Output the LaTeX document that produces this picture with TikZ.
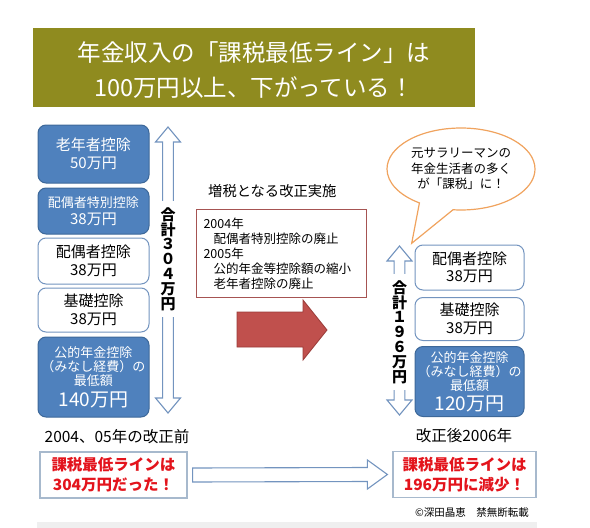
\documentclass[tikz,border=0pt]{standalone}
\usepackage{fontspec}
\setmainfont{Noto Sans CJK JP}
\usetikzlibrary{positioning, calc, shapes.callouts}
\definecolor{titlebg}{HTML}{8F8B1F}
\definecolor{boxblue}{HTML}{4F81BD}
\definecolor{boxedge}{HTML}{3D6899}
\definecolor{lineblue}{HTML}{7394BF}
\definecolor{framegray}{HTML}{A7B9CD}
\definecolor{warnred}{HTML}{E3141C}
\definecolor{arrowred}{HTML}{C0504D}
\definecolor{arrowedge}{HTML}{9A3B38}
\definecolor{notered}{HTML}{A65452}
\definecolor{bubbleorange}{HTML}{F0A35E}
\definecolor{stripgray}{HTML}{EFEFEF}

\begin{document}
\begin{tikzpicture}[x=1pt, y=-1pt,
    every node/.style={inner sep=0pt},
    bluebox/.style={draw=boxedge, fill=boxblue, text=white, rounded corners=8pt, line width=1pt, minimum width=111pt, align=center},
    whitebox/.style={draw=lineblue, fill=white, rounded corners=8pt, line width=1pt, minimum width=111pt, align=center},
    redbox/.style={draw=framegray, fill=white, line width=1.2pt, minimum width=147pt, minimum height=46pt, align=center, text=warnred, font=\bfseries\fontsize{15.5}{20}\selectfont},
    hollow/.style={draw=lineblue, fill=white, line width=1.1pt},
    vlab/.style={fill=white, align=center, inner xsep=2pt, inner ysep=6pt, font=\bfseries\fontsize{15}{14.8}\selectfont},
    big/.style={font=\fontsize{15}{17.5}\selectfont},
    small/.style={font=\fontsize{13}{14}\selectfont},
]
% vertical hollow double arrow: x, top, bottom
\def\vdouble#1#2#3{
    \draw[hollow] (#1,#2) -- (#1+12.5,#2+15) -- (#1+5.4,#2+15) -- (#1+5.4,#3-15)
        -- (#1+12.5,#3-15) -- (#1,#3) -- (#1-12.5,#3-15) -- (#1-5.4,#3-15)
        -- (#1-5.4,#2+15) -- (#1-12.5,#2+15) -- cycle;
}
\useasboundingbox (0,0) rectangle (590,528);

% ---------------- title
\fill[titlebg] (33,28) rectangle (475,107);
\node[text=white, align=center, font=\fontsize{23.5}{35}\selectfont] (title) at (254,70.5)
      {年金収入の「課税最低ライン」は\\100万円以上、下がっている！};

% ---------------- before: left column
\node[bluebox, big, minimum height=58pt] (rounen) at (93.5,154) {老年者控除\\50万円};
\node[bluebox, big, minimum height=46pt, below=4pt of rounen] (tokubetsu)
      {{\fontsize{13}{15}\selectfont 配偶者特別控除}\\38万円};
\node[whitebox, big, minimum height=46pt, below=3pt of tokubetsu] (haigu) {配偶者控除\\38万円};
\node[whitebox, big, minimum height=44pt, below=3pt of haigu] (kiso) {基礎控除\\38万円};
\node[bluebox, small, minimum height=80pt, below=4pt of kiso] (kouteki)
      {公的年金控除\\（みなし経費）の\\最低額\\[4pt]{\fontsize{19}{22}\selectfont 140万円}};

\vdouble{168}{127}{413}
\node[vlab] (total304) at (168,259) {合\\計\\３\\０\\４\\万\\円};

% ---------------- reform in the middle
\node[font=\fontsize{14.3}{16}\selectfont, anchor=west] (zouzei) at (208,191) {増税となる改正実施};
\node[draw=notered, line width=1pt, anchor=north west, minimum width=170pt, minimum height=88pt,
      inner xsep=7pt, text width=156pt, align=left, font=\fontsize{12.5}{15}\selectfont] (kaisei) at (196,209)
      {2004年\\\hspace*{10pt}配偶者特別控除の廃止\\2005年\\\hspace*{10pt}公的年金等控除額の縮小\\\hspace*{10pt}老年者控除の廃止};
\draw[fill=arrowred, draw=arrowedge, line width=0.8pt]
    (237,312) -- (303,312) -- (303,300) -- (327,330) -- (303,360) -- (303,347) -- (237,347) -- cycle;

% ---------------- after: right column
\node[ellipse callout, draw=bubbleorange, fill=white, line width=1.2pt, minimum width=148pt, minimum height=82pt,
      callout absolute pointer={(411.7,243.3)}, callout pointer arc=28, align=center,
      font=\fontsize{12.5}{15.5}\selectfont] (bubble) at (461,169)
      {元サラリーマンの\\年金生活者の多く\\が「課税」に！};
\node[whitebox, big, minimum width=109pt, minimum height=45pt] (haigu2) at (469.5,267.5) {配偶者控除\\38万円};
\node[whitebox, big, minimum width=109pt, minimum height=43pt, below=6.5pt of haigu2] (kiso2) {基礎控除\\38万円};
\node[bluebox, small, minimum width=109pt, minimum height=70pt, below=5pt of kiso2] (kouteki2)
      {公的年金控除\\（みなし経費）の\\最低額\\[3pt]{\fontsize{19}{22}\selectfont 120万円}};

\vdouble{399.5}{246}{415}
\node[vlab] (total196) at (399.5,332) {合\\計\\１\\９\\６\\万\\円};

% ---------------- bottom line
\node[font=\fontsize{15.5}{18}\selectfont] (before) at (117,437) {2004、05年の改正前};
\node[redbox] (line304) at (113.5,475) {課税最低ラインは\\304万円だった！};
\node[font=\fontsize{15.5}{18}\selectfont] (after) at (464,436) {改正後2006年};
\node[redbox, minimum width=143pt] (line196) at (464.5,474.5) {課税最低ラインは\\196万円に減少！};

\coordinate (a0) at ($(line304.east)+(5,0)$);
\coordinate (a1) at ($(line196.west)+(-5,0)$);
\draw[hollow] ($(a0)+(0,-7)$) -- ($(a1)+(-20,-7)$) -- ($(a1)+(-20,-14.5)$) -- (a1)
    -- ($(a1)+(-20,14.5)$) -- ($(a1)+(-20,7)$) -- ($(a0)+(0,7)$) -- cycle;

\node[font=\fontsize{10.5}{12}\selectfont] (copy) at (472,513) {©深田晶恵　禁無断転載};
\fill[stripgray] (37,522) rectangle (537,528);
\end{tikzpicture}
\end{document}
